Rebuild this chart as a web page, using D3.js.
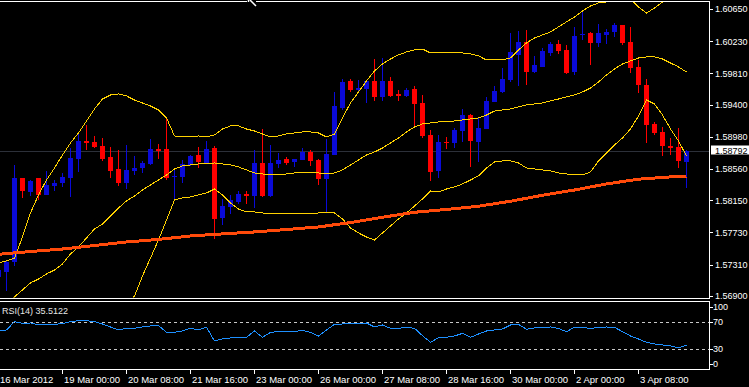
<!DOCTYPE html>
<html>
<head>
<meta charset="utf-8">
<script src="https://cdn.jsdelivr.net/npm/d3@7/dist/d3.min.js"></script>
<style>
  html, body { margin: 0; padding: 0; background: #000; }
  svg { display: block; }
  text { font-family: "Liberation Sans", Arial, sans-serif; font-size: 9px; fill: #fff; }
</style>
</head>
<body>
<div id="chart"></div>
<script>
// bar index of the first value in every per-bar array (one bar is cut at the left edge)
var firstBar = -1;

// H4 candles
var opens = [1.57149, 1.57214, 1.57345, 1.58442, 1.58259, 1.58442, 1.5822, 1.58338, 1.58377, 1.58442,
  1.5869, 1.58926, 1.58913, 1.5886, 1.58717, 1.5856, 1.58377, 1.58534, 1.58573, 1.58625,
  1.58821, 1.58821, 1.58455, 1.58455, 1.58612, 1.58743, 1.58638, 1.58834, 1.5792, 1.58063,
  1.58129, 1.58233, 1.58207, 1.58638, 1.58207, 1.58625, 1.5869, 1.58651, 1.58677, 1.58782,
  1.58677, 1.58429, 1.58743, 1.59357, 1.5971, 1.59592, 1.59605, 1.5971, 1.59501, 1.5971,
  1.5954, 1.59514, 1.59605, 1.59422, 1.59004, 1.58534, 1.58913, 1.589, 1.59056, 1.59265,
  1.58913, 1.59083, 1.59435, 1.59566, 1.59723, 1.60049, 1.60219, 1.59827, 1.59893, 1.60075,
  1.60193, 1.60115, 1.59827, 1.60311, 1.60337, 1.60206, 1.60311, 1.6035, 1.60441, 1.60219,
  1.59893, 1.59657, 1.59148, 1.59043, 1.5886, 1.58847, 1.58651];
var highs = [1.57292, 1.57358, 1.58612, 1.58442, 1.58416, 1.58442, 1.58534, 1.58416, 1.58508, 1.58834,
  1.5903, 1.59135, 1.58991, 1.58965, 1.58847, 1.58808, 1.58873, 1.5873, 1.58664, 1.58952,
  1.58887, 1.59239, 1.58547, 1.58677, 1.58743, 1.58847, 1.58926, 1.5886, 1.58168, 1.5822,
  1.58272, 1.58272, 1.58808, 1.59083, 1.58873, 1.58769, 1.58717, 1.5869, 1.58834, 1.58808,
  1.5869, 1.58952, 1.59566, 1.59736, 1.59736, 1.59723, 1.59723, 1.59997, 1.6001, 1.59762,
  1.59592, 1.59618, 1.59644, 1.59527, 1.59069, 1.59004, 1.58978, 1.59096, 1.59344, 1.59279,
  1.59239, 1.59501, 1.59644, 1.5988, 1.60337, 1.60363, 1.60376, 1.60036, 1.60141, 1.60219,
  1.60245, 1.6018, 1.60415, 1.60611, 1.6035, 1.60454, 1.60389, 1.60467, 1.60441, 1.60415,
  1.59984, 1.59736, 1.59174, 1.59109, 1.58965, 1.59096, 1.58808];
var lows = [1.57083, 1.56966, 1.57292, 1.58181, 1.58207, 1.58155, 1.5822, 1.58272, 1.58325, 1.58194,
  1.58521, 1.58808, 1.58834, 1.58664, 1.58442, 1.58338, 1.58299, 1.58481, 1.58508, 1.58612,
  1.5869, 1.58416, 1.58168, 1.58377, 1.58599, 1.58573, 1.58638, 1.57645, 1.57828, 1.57972,
  1.58103, 1.58103, 1.5805, 1.58194, 1.58194, 1.58573, 1.58612, 1.58586, 1.58677, 1.58599,
  1.58351, 1.57998, 1.58743, 1.59331, 1.59566, 1.59579, 1.59422, 1.59448, 1.59448, 1.59501,
  1.59448, 1.59501, 1.59122, 1.58965, 1.58403, 1.58442, 1.58821, 1.58834, 1.58913, 1.58586,
  1.58651, 1.59083, 1.59435, 1.59553, 1.59697, 1.59644, 1.59657, 1.59814, 1.59893, 1.60036,
  1.60062, 1.59801, 1.59788, 1.60245, 1.59919, 1.60154, 1.60193, 1.60285, 1.6018, 1.59814,
  1.59553, 1.589, 1.59004, 1.5873, 1.58743, 1.58573, 1.58312];
var closes = [1.5724, 1.57345, 1.58442, 1.58272, 1.58403, 1.5822, 1.58351, 1.58377, 1.58455, 1.58704,
  1.58926, 1.589, 1.58847, 1.5869, 1.58534, 1.58377, 1.58547, 1.58573, 1.58638, 1.58821,
  1.58795, 1.58442, 1.58468, 1.58625, 1.5873, 1.58651, 1.58821, 1.57907, 1.58076, 1.58155,
  1.58233, 1.58207, 1.58638, 1.58207, 1.58638, 1.58677, 1.58638, 1.5869, 1.58782, 1.58664,
  1.58429, 1.58756, 1.59383, 1.59697, 1.59592, 1.59618, 1.5971, 1.59501, 1.5971, 1.59514,
  1.59514, 1.59592, 1.59409, 1.58991, 1.58521, 1.58913, 1.589, 1.59069, 1.59265, 1.58926,
  1.59096, 1.59448, 1.59579, 1.59736, 1.60089, 1.60219, 1.59827, 1.59919, 1.60102, 1.60193,
  1.60102, 1.59814, 1.60298, 1.60324, 1.60206, 1.60337, 1.6035, 1.60441, 1.60206, 1.5988,
  1.59657, 1.59135, 1.5903, 1.5886, 1.58834, 1.58664, 1.58792];

// Bollinger bands, one value per bar
var bandUpper = [1.57332, 1.57358, 1.57396, 1.57672, 1.57985, 1.5822, 1.58416, 1.58573, 1.58743, 1.589,
  1.5903, 1.59187, 1.59344, 1.59474, 1.59527, 1.5954, 1.59514, 1.59461, 1.59422, 1.59383,
  1.59331, 1.59226, 1.58991, 1.58978, 1.58978, 1.58991, 1.58978, 1.59004, 1.59082, 1.59122,
  1.59122, 1.59082, 1.59056, 1.59017, 1.58978, 1.58991, 1.59017, 1.5903, 1.59043, 1.59043,
  1.5903, 1.58978, 1.59017, 1.59226, 1.59422, 1.59566, 1.5971, 1.5984, 1.59932, 1.59997,
  1.6005, 1.60089, 1.60115, 1.60127, 1.60076, 1.60076, 1.60076, 1.60076, 1.60076, 1.60063,
  1.60037, 1.59984, 1.59984, 1.59984, 1.6001, 1.60115, 1.60206, 1.60271, 1.60311, 1.6035,
  1.60416, 1.60481, 1.60546, 1.60624, 1.6069, 1.60729, 1.60742, 1.60781, 1.60807, 1.60781,
  1.60677, 1.60598, 1.60663, 1.60742, 1.6082, 1.60899, 1.60977];
var bandMiddle = [1.56718, 1.56809, 1.56888, 1.56979, 1.57071, 1.57122, 1.57188, 1.5724, 1.57319, 1.57449,
  1.57541, 1.57658, 1.57775, 1.57841, 1.57946, 1.5805, 1.58142, 1.58207, 1.58285, 1.58351,
  1.58416, 1.58482, 1.58559, 1.58599, 1.58612, 1.58625, 1.58625, 1.58638, 1.58625, 1.58612,
  1.58586, 1.58547, 1.58508, 1.58495, 1.58482, 1.58482, 1.58495, 1.58508, 1.58508, 1.58508,
  1.58508, 1.58495, 1.58508, 1.58547, 1.58612, 1.58677, 1.58743, 1.58782, 1.58834, 1.589,
  1.58965, 1.59043, 1.59109, 1.59148, 1.59161, 1.59174, 1.59174, 1.59187, 1.592, 1.59213,
  1.59226, 1.59265, 1.59317, 1.59331, 1.59344, 1.5937, 1.59396, 1.59409, 1.59422, 1.59448,
  1.59474, 1.59501, 1.59527, 1.59566, 1.59618, 1.59697, 1.59788, 1.59866, 1.59932, 1.59971,
  1.6001, 1.60023, 1.60023, 1.59997, 1.59945, 1.59893, 1.59827];
var bandLower = [1.56104, 1.56261, 1.56378, 1.56261, 1.56117, 1.55959, 1.55934, 1.55843, 1.55856, 1.55959,
  1.56038, 1.56117, 1.56195, 1.56208, 1.56365, 1.56561, 1.56769, 1.569, 1.57162, 1.57396,
  1.57632, 1.57893, 1.58155, 1.58181, 1.58194, 1.5822, 1.58246, 1.58298, 1.5822, 1.58116,
  1.58037, 1.57998, 1.57998, 1.57985, 1.57972, 1.57972, 1.57972, 1.57972, 1.57972, 1.57972,
  1.57985, 1.57985, 1.57985, 1.57907, 1.57789, 1.57724, 1.57671, 1.57632, 1.57724, 1.57815,
  1.57907, 1.57985, 1.58076, 1.58168, 1.58272, 1.58259, 1.58298, 1.58325, 1.58364, 1.58416,
  1.58469, 1.58573, 1.58651, 1.58664, 1.58664, 1.58638, 1.58573, 1.5856, 1.58547, 1.58534,
  1.58508, 1.58495, 1.58482, 1.58482, 1.58521, 1.58664, 1.58769, 1.58874, 1.58965, 1.59083,
  1.59252, 1.59461, 1.59409, 1.59265, 1.59083, 1.58926, 1.5873];

// slow moving average, read every 4th bar
var maBars = [-1, 3, 7, 11, 15, 19, 23, 27, 31, 35, 39, 43, 47, 51, 55, 59, 63, 67, 71, 75, 79, 83, 85];
var maValues = [1.57445, 1.57481, 1.57514, 1.5756, 1.57606, 1.57639, 1.57685, 1.57711, 1.57737, 1.57769,
  1.57802, 1.5786, 1.57929, 1.57994, 1.58031, 1.58073, 1.58138, 1.58216, 1.58285, 1.58364,
  1.58426, 1.58456, 1.58459];

// RSI(14), one value per bar
var rsiValues = [57, 58.5, 71, 68.5, 69, 66, 66, 67, 68, 71, 72.5, 72.5, 71, 67.5, 63, 58.5, 61, 61, 63, 64.5,
  65, 55, 55, 57, 61, 58.5, 62.5, 42, 45, 46.5, 47, 47.5, 57, 47.5, 55, 56, 56, 56, 58, 55,
  49.5, 58.5, 67, 67.5, 67.5, 67.5, 69, 63, 66, 61, 61, 62.5, 61, 50, 40, 47, 47.5, 49.5, 53.5, 47.5,
  52.5, 57, 58.5, 60, 66, 67, 59.5, 61.5, 62.5, 63, 60.7, 56, 62.5, 62.5, 60.7, 62.5, 63, 62.5, 56, 49.5,
  45, 40, 37.5, 36, 34.5, 32, 35.5];
var rsiLabel = "RSI(14) 35.5122";
var rsiLevels = [70, 30];
var rsiTicks = [100, 70, 30, 0];

var priceTicks = [1.6065, 1.6023, 1.5981, 1.594, 1.5898, 1.5856, 1.5815, 1.5773, 1.5731, 1.569];
var lastPrice = 1.58792;

var timeBars = [-1, 7, 15, 23, 31, 39, 47, 55, 63, 71, 79];
var timeLabels = ["16 Mar 2012", "19 Mar 00:00", "20 Mar 08:00", "21 Mar 16:00", "23 Mar 00:00",
  "26 Mar 00:00", "27 Mar 08:00", "28 Mar 16:00", "30 Mar 00:00", "2 Apr 00:00", "3 Apr 08:00"];

var width = 749, height = 387,
  axisX = 709,
  mainTop = 2, mainBottom = 298,
  rsiTop = 301, rsiBottom = 369;

var svg = d3.select("#chart").append("svg")
  .attr("width", width)
  .attr("height", height);

svg.append("rect")
  .attr("width", width)
  .attr("height", height)
  .attr("fill", "#000");

// Scales
var x = d3.scaleLinear().domain([0, 85]).range([6, 686]);
var y = d3.scaleLinear().domain([1.569, 1.6065]).range([296, 9]);
var yRsi = d3.scaleLinear().domain([0, 100]).range([369, 302.3]);

var defs = svg.append("defs");
defs.append("clipPath").attr("id", "clipMain").append("rect")
  .attr("x", 0).attr("y", mainTop).attr("width", axisX).attr("height", mainBottom - mainTop - 0.5);
defs.append("clipPath").attr("id", "clipRsi").append("rect")
  .attr("x", 0).attr("y", rsiTop + 0.5).attr("width", axisX).attr("height", rsiBottom - rsiTop - 1);

var main = svg.append("g").attr("clip-path", "url(#clipMain)");

// bid line
main.append("line")
  .attr("x1", 0).attr("x2", axisX)
  .attr("y1", Math.round(y(lastPrice)) + 0.5).attr("y2", Math.round(y(lastPrice)) + 0.5)
  .attr("stroke", "#2c3039");

var bars = d3.range(opens.length);
function barX(k) { return x(k + firstBar); }

// Candles
var candle = main.append("g").attr("shape-rendering", "crispEdges")
  .selectAll("g")
  .data(bars)
  .enter().append("g")
  .attr("fill", function(k) { return closes[k] >= opens[k] ? "#0a0ad8" : "#ff0000"; });

candle.append("rect")
  .attr("x", function(k) { return barX(k); })
  .attr("y", function(k) { return Math.round(y(highs[k])); })
  .attr("width", 1)
  .attr("height", function(k) { return Math.max(1, Math.round(y(lows[k])) - Math.round(y(highs[k]))); });

candle.append("rect")
  .attr("x", function(k) { return barX(k) - 2; })
  .attr("y", function(k) { return Math.round(y(Math.max(opens[k], closes[k]))); })
  .attr("width", 5)
  .attr("height", function(k) {
    return Math.max(1, Math.round(y(Math.min(opens[k], closes[k]))) - Math.round(y(Math.max(opens[k], closes[k]))));
  });

// Bollinger bands
var bandLine = d3.line()
  .x(function(d, k) { return barX(k) + 0.5; })
  .y(function(d) { return y(d); });

[bandUpper, bandMiddle, bandLower].forEach(function(band) {
  main.append("path")
    .attr("d", bandLine(band))
    .attr("fill", "none")
    .attr("stroke", "#ffd200")
    .attr("stroke-width", 1)
    .attr("shape-rendering", "crispEdges");
});

// moving average
var maLine = d3.line()
  .x(function(d, k) { return x(maBars[k]) + 0.5; })
  .y(function(d) { return y(d); });

main.append("path")
  .attr("d", maLine(maValues))
  .attr("fill", "none")
  .attr("stroke", "#ff4a0a")
  .attr("stroke-width", 3)
  .attr("shape-rendering", "crispEdges");

// RSI window
var rsi = svg.append("g").attr("clip-path", "url(#clipRsi)");

rsi.selectAll("line.level")
  .data(rsiLevels)
  .enter().append("line")
  .attr("class", "level")
  .attr("x1", 0).attr("x2", axisX)
  .attr("y1", function(d) { return Math.round(yRsi(d)) + 0.5; })
  .attr("y2", function(d) { return Math.round(yRsi(d)) + 0.5; })
  .attr("stroke", "#c8c8c8")
  .attr("stroke-dasharray", "3,3");

var rsiLine = d3.line()
  .x(function(d, k) { return barX(k) + 0.5; })
  .y(function(d) { return yRsi(d); });

rsi.append("path")
  .attr("d", rsiLine(rsiValues))
  .attr("fill", "none")
  .attr("stroke", "#1e90ff")
  .attr("stroke-width", 1)
  .attr("shape-rendering", "crispEdges");

svg.append("text")
  .attr("x", 2)
  .attr("y", 314)
  .style("fill", "#e6e6e6")
  .text(rsiLabel);

// Frames
var frame = svg.append("g")
  .attr("stroke", "#fff")
  .attr("shape-rendering", "crispEdges");

frame.append("line").attr("x1", 0).attr("x2", 247).attr("y1", 1.5).attr("y2", 1.5);
frame.append("line").attr("x1", 256).attr("x2", axisX + 1).attr("y1", 1.5).attr("y2", 1.5);
frame.append("line").attr("x1", axisX + 0.5).attr("x2", axisX + 0.5).attr("y1", 1).attr("y2", mainBottom + 1);
frame.append("line").attr("x1", 0).attr("x2", axisX + 1).attr("y1", mainBottom + 0.5).attr("y2", mainBottom + 0.5);
frame.append("line").attr("x1", 0).attr("x2", axisX + 1).attr("y1", rsiTop + 0.5).attr("y2", rsiTop + 0.5);
frame.append("line").attr("x1", axisX + 0.5).attr("x2", axisX + 0.5).attr("y1", rsiTop).attr("y2", rsiBottom + 1);
frame.append("line").attr("x1", 0).attr("x2", axisX + 1).attr("y1", rsiBottom + 0.5).attr("y2", rsiBottom + 0.5);

// small marker on the top edge
svg.append("path")
  .attr("d", "M248.5,0V2M250,0L256,6")
  .attr("stroke", "#fff")
  .attr("stroke-width", 1.5)
  .attr("fill", "none");

// Price axis
var priceAxis = d3.axisRight(y)
  .tickValues(priceTicks)
  .tickSize(3)
  .tickPadding(2)
  .tickFormat(d3.format(".5f"));

var pa = svg.append("g")
  .attr("transform", "translate(" + (axisX + 1) + ",0)")
  .call(priceAxis);
pa.select(".domain").remove();
pa.selectAll("line").attr("stroke", "#fff").attr("shape-rendering", "crispEdges");
pa.selectAll("text")
  .attr("font-family", null).attr("font-size", null)
  .style("fill", "#fff");

// current price tag
var yLast = Math.round(y(lastPrice));
svg.append("rect")
  .attr("x", axisX + 2)
  .attr("y", yLast - 5.5)
  .attr("width", width - axisX - 2)
  .attr("height", 9)
  .attr("fill", "#fff");
svg.append("text")
  .attr("x", axisX + 6)
  .attr("y", yLast + 2.5)
  .style("fill", "#000")
  .text(d3.format(".5f")(lastPrice));

// RSI axis
var ra = svg.append("g");
ra.selectAll("line")
  .data(rsiTicks)
  .enter().append("line")
  .attr("x1", axisX + 1).attr("x2", axisX + 4)
  .attr("y1", function(d) { return Math.round(Math.min(364, Math.max(307, yRsi(d)))) + 0.5; })
  .attr("y2", function(d) { return Math.round(Math.min(364, Math.max(307, yRsi(d)))) + 0.5; })
  .attr("stroke", "#fff");
ra.selectAll("text")
  .data(rsiTicks)
  .enter().append("text")
  .attr("x", axisX + 4)
  .attr("y", function(d) { return Math.min(364, Math.max(307, yRsi(d))); })
  .attr("dy", "0.35em")
  .text(function(d) { return d; });

// Time axis
var ta = svg.append("g");
ta.selectAll("line")
  .data(timeBars)
  .enter().append("line")
  .attr("x1", function(d) { return x(d) + 0.5; })
  .attr("x2", function(d) { return x(d) + 0.5; })
  .attr("y1", rsiBottom + 1).attr("y2", rsiBottom + 5)
  .attr("stroke", "#fff");
ta.selectAll("text")
  .data(timeBars)
  .enter().append("text")
  .attr("x", function(d) { return x(d) + 2; })
  .attr("y", 383)
  .style("font-size", "9.5px")
  .text(function(d, k) { return timeLabels[k]; });
</script>
</body>
</html>
